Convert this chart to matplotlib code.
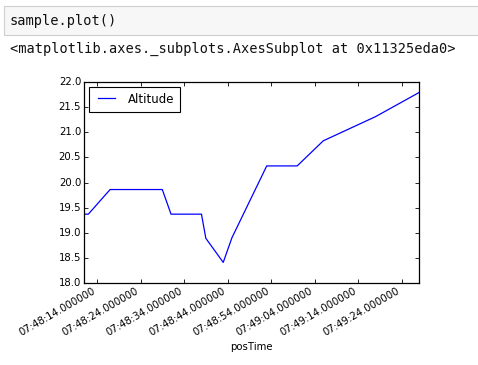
#%% import modules
import numpy as np
import pandas as pd
import matplotlib
matplotlib.use('Agg')
import matplotlib.pyplot as plt
import matplotlib.dates as mdates

# %% data read off the notebook output
pos_time = ['07:48:11', '07:48:12', '07:48:17', '07:48:29', '07:48:31',
            '07:48:38', '07:48:39', '07:48:43', '07:48:45', '07:48:53',
            '07:49:00', '07:49:06', '07:49:18', '07:49:28']
altitude = [19.37, 19.37, 19.86, 19.86, 19.37, 19.37, 18.89, 18.41,
            18.90, 20.33, 20.33, 20.83, 21.31, 21.79]
tick_seconds = [4, 14, 24, 34, 44, 54]
y_ticks = [18.0, 18.5, 19.0, 19.5, 20.0, 20.5, 21.0, 21.5, 22.0]

cell_code = 'sample.plot()'
cell_out = '<matplotlib.axes._subplots.AxesSubplot at 0x11325eda0>'

sample = pd.DataFrame({'Altitude': altitude},
                      index=pd.to_datetime(['2016-05-01 ' + t for t in pos_time]))
sample.index.name = 'posTime'

# %% plot
plt.style.use('classic')
plt.rcParams['font.size'] = 7.3
plt.rcParams['font.family'] = 'DejaVu Sans'

fig = plt.figure(figsize=(4.78, 3.65), dpi=100)
fig.patch.set_facecolor('white')

# notebook input cell + output repr
fig.patches.append(plt.Rectangle((4 / 478, 1 - 35 / 365), 480 / 478, 29 / 365,
                                 transform=fig.transFigure, facecolor='#f7f7f7',
                                 edgecolor='#cfcfcf', linewidth=0.8))
fig.text(10 / 478, 1 - 21 / 365, cell_code, family='DejaVu Sans Mono',
         fontsize=9.8, va='center', ha='left', color='#111111')
fig.text(10 / 478, 1 - 49 / 365, cell_out, family='DejaVu Sans Mono',
         fontsize=9.8, va='center', ha='left', color='#111111')

ax = fig.add_axes([84 / 478, 1 - 283 / 365, 335 / 478, 201 / 365])
ax.plot(sample.index, sample['Altitude'], color='b', linewidth=0.9, label='Altitude')
ax.set_xlim(sample.index[0], sample.index[-1])
ax.set_ylim(18.0, 22.0)
ax.set_yticks(y_ticks)
ax.yaxis.set_major_formatter(plt.FormatStrFormatter('%.1f'))
ax.xaxis.set_major_locator(mdates.SecondLocator(bysecond=tick_seconds))
ax.xaxis.set_major_formatter(mdates.DateFormatter('%H:%M:%S.%f'))
ax.tick_params(length=3, width=0.6, pad=2)
for lbl in ax.get_xticklabels():
    lbl.set_rotation(30)
    lbl.set_ha('right')
ax.set_xlabel('posTime', labelpad=3)
for s in ax.spines.values():
    s.set_linewidth(0.9)
leg = ax.legend(loc='upper left', fontsize=8.5, handlelength=2.0, borderpad=0.5,
                borderaxespad=0.4)
leg.get_frame().set_linewidth(0.8)

plt.savefig('out.png', dpi=100, facecolor='white')
plt.close()
